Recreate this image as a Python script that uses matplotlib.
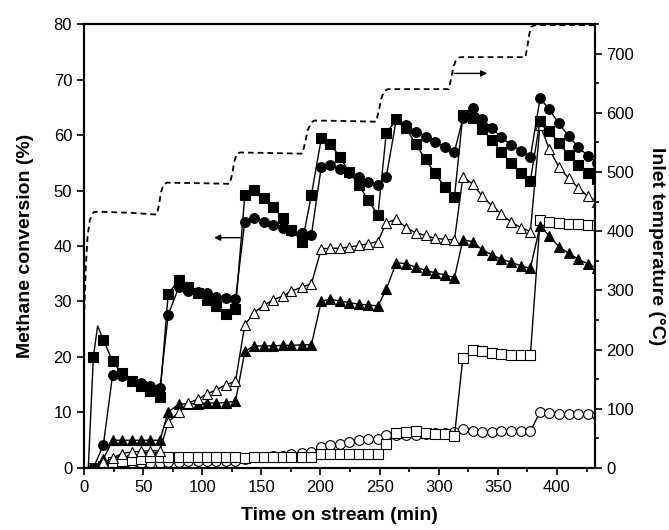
import matplotlib
matplotlib.use('Agg')
import matplotlib.pyplot as plt
from matplotlib.ticker import MultipleLocator

plt.rcParams['font.family'] = ['Liberation Sans', 'DejaVu Sans']

# sampling times (min), shared by all conversion series
t_min = [7.9, 16.3, 24.2, 31.8, 40.3, 48.1, 55.7, 64.2,
         71.2, 80.2, 88.1, 96.5, 103.6, 112.0, 119.9, 128.1,
         136.0, 143.9, 152.0, 159.9, 168.3, 175.4, 184.7, 192.3,
         200.7, 208.3, 216.2, 224.1, 232.5, 240.1, 248.6,
         255.6, 264.1, 272.5, 280.4, 288.9, 296.5, 304.9, 313.3,
         320.4, 328.8, 336.7, 345.2, 352.8, 361.2, 369.7, 377.5,
         385.7, 393.6, 401.4, 409.9, 418.1, 425.9, 434.0]

# filled squares (line starts at 3.6 min, unmarked peak at 11.5 min)
sq_t = [3.6, 7.9, 11.5] + t_min[1:]
sq_filled = [0.0, 20.0, 25.6, 23.1, 19.2, 17.1, 15.6, 14.7, 13.8, 12.8,
             31.4, 33.9, 32.7, 31.5, 30.3, 29.1, 27.7, 28.6,
             49.2, 50.1, 48.6, 47.0, 45.0, 42.9, 40.8, 49.2,
             59.4, 58.4, 56.1, 53.4, 51.0, 48.3, 45.6,
             60.3, 62.8, 61.2, 58.4, 55.6, 53.2, 50.7, 48.8,
             63.6, 63.0, 61.0, 59.1, 57.0, 54.9, 53.1, 51.8,
             62.6, 60.7, 58.6, 56.4, 54.6, 53.2, 52.0]

circ_filled = [0.0, 4.1, 16.8, 16.6, 15.7, 15.3, 14.8, 14.4,
               27.6, 32.6, 31.9, 31.8, 31.5, 30.9, 30.6, 30.4,
               44.4, 45.1, 44.4, 43.8, 43.2, 42.7, 42.3, 42.0,
               54.3, 54.6, 53.8, 53.1, 52.4, 51.6, 51.0,
               52.4, 62.8, 61.8, 60.6, 59.7, 58.8, 57.9, 57.0,
               63.0, 64.8, 62.9, 61.2, 59.6, 58.2, 57.2, 56.0,
               66.6, 64.6, 62.1, 59.8, 57.8, 56.3, 55.0]

tri_open = [0.0, 1.0, 1.8, 2.6, 2.9, 3.0, 3.1, 3.1,
            8.3, 10.0, 11.7, 12.4, 13.3, 14.1, 15.0, 15.6,
            25.8, 28.0, 29.3, 30.3, 31.0, 31.9, 32.6, 33.2,
            39.5, 39.6, 39.6, 39.8, 40.1, 40.4, 40.8,
            44.2, 44.8, 43.3, 42.4, 41.9, 41.4, 41.2, 41.1,
            52.4, 51.2, 49.0, 47.2, 45.8, 44.3, 43.3, 42.6,
            61.8, 57.4, 54.3, 52.2, 50.5, 49.0, 48.0]

tri_filled = [0.0, 1.6, 5.0, 5.0, 5.0, 5.0, 5.0, 5.0,
              10.1, 11.5, 11.6, 11.6, 11.7, 11.7, 11.8, 12.0,
              21.0, 22.0, 22.0, 22.0, 22.1, 22.1, 22.2, 22.2,
              30.1, 30.4, 30.1, 29.8, 29.5, 29.4, 29.2,
              32.2, 37.0, 36.8, 36.2, 35.6, 35.2, 34.8, 34.3,
              41.1, 40.8, 39.3, 38.4, 37.6, 37.1, 36.4, 36.0,
              43.6, 41.8, 39.9, 38.7, 37.6, 36.8, 36.0]

sq_open = [0.0, 0.3, 1.0, 1.3, 1.5, 1.7, 1.9, 2.0,
           2.0, 2.0, 1.9, 1.9, 1.9, 2.0, 1.9, 1.9,
           1.8, 1.9, 1.9, 1.9, 2.0, 2.0, 2.0, 2.0,
           2.6, 2.6, 2.6, 2.6, 2.6, 2.6, 2.6,
           4.4, 6.3, 6.5, 6.6, 6.3, 6.2, 6.2, 5.8,
           19.8, 21.3, 21.1, 20.7, 20.5, 20.4, 20.3, 20.3,
           44.6, 44.4, 44.2, 44.0, 43.9, 43.8, 43.7]

circ_open = [0.0, 0.3, 0.5, 0.8, 0.9, 0.9, 0.9, 0.9,
             1.1, 1.1, 1.2, 1.2, 1.3, 1.3, 1.2, 1.2,
             1.7, 2.0, 1.9, 2.2, 2.2, 2.5, 2.7, 2.9,
             3.7, 4.1, 4.3, 4.7, 5.0, 5.2, 5.2,
             5.9, 5.9, 5.9, 6.0, 6.2, 6.3, 6.3, 6.5,
             7.1, 6.6, 6.5, 6.5, 6.6, 6.6, 6.6, 6.6,
             10.1, 9.9, 9.8, 9.7, 9.7, 9.7, 9.6]

# inlet temperature profile (dashed, right axis)
temp_t = [0, 1.5, 3, 5, 8, 12, 40, 61.5, 63.5, 65, 67, 70, 100,
          123.3, 125.5, 127, 129, 132, 160, 184.7, 187, 189, 192.3, 195, 225,
          247, 249.5, 251.5, 254, 257, 285, 308.5, 310.5, 312.5, 314.8, 318, 345,
          373.3, 375, 376.5, 378, 381, 435]
temp_c = [250, 340, 392, 420, 432, 433, 431, 428, 445, 465, 478, 482, 481,
          480, 498, 517, 530, 533, 532, 531, 550, 570, 584, 587, 586,
          585, 605, 625, 637, 640, 640, 640, 658, 678, 690, 694, 694,
          694, 712, 732, 745, 748, 748]

fig = plt.figure(figsize=(6.69, 5.30), dpi=100)
ax = fig.add_axes([0.1256, 0.117, 0.7635, 0.8377])

mk = dict(color='black', lw=1.0, mec='black', mew=0.8, ms=7)
ax.plot(t_min, circ_open, marker='o', mfc='white', **mk)
ax.plot(t_min, sq_open, marker='s', mfc='white', **mk)
ax.plot(t_min, tri_filled, marker='^', mfc='black', **mk)
ax.plot(t_min, tri_open, marker='^', mfc='white', **mk)
ax.plot(t_min, circ_filled, marker='o', mfc='black', **mk)
sq_marks = [i for i in range(len(sq_t)) if i not in (0, 2)]
ax.plot(sq_t, sq_filled, marker='s', mfc='black', markevery=sq_marks, **mk)

ax.set_xlim(0, 432)
ax.set_ylim(0, 80)
ax.xaxis.set_major_locator(MultipleLocator(50))
ax.xaxis.set_minor_locator(MultipleLocator(25))
ax.yaxis.set_major_locator(MultipleLocator(10))
ax.tick_params(axis='both', which='major', direction='out', length=5, width=1.2,
               labelsize=12, top=False, right=False)
ax.tick_params(axis='x', which='minor', direction='out', length=3, width=1.2)
ax.set_xlabel('Time on stream (min)', fontsize=14, fontweight='bold', labelpad=9)
ax.set_ylabel('Methane conversion (%)', fontsize=14, fontweight='bold', labelpad=14)

ax2 = ax.twinx()
ax2.plot(temp_t, temp_c, color='black', lw=1.3, ls=(0, (3.2, 2.2)))
ax2.set_ylim(0, 750)
ax2.yaxis.set_major_locator(MultipleLocator(100))
ax2.yaxis.set_minor_locator(MultipleLocator(50))
ax2.tick_params(axis='y', which='major', direction='out', length=5, width=1.2, labelsize=12)
ax2.tick_params(axis='y', which='minor', direction='out', length=3, width=1.2)
ax2.set_ylabel('Inlet temperature (\u00b0C)', fontsize=14, fontweight='bold',
               rotation=-90, labelpad=22)

for a in (ax, ax2):
    for s in a.spines.values():
        s.set_linewidth(1.5)

# arrows pointing to the relevant axis
ax.annotate('', xy=(110, 41.5), xytext=(132, 41.5),
            arrowprops=dict(arrowstyle='-|>', color='black', lw=1.0,
                            mutation_scale=9, shrinkA=0, shrinkB=0))
ax.annotate('', xy=(341, 71.1), xytext=(313, 71.1),
            arrowprops=dict(arrowstyle='-|>', color='black', lw=1.0,
                            mutation_scale=9, shrinkA=0, shrinkB=0))

fig.savefig('out.png', dpi=100)
